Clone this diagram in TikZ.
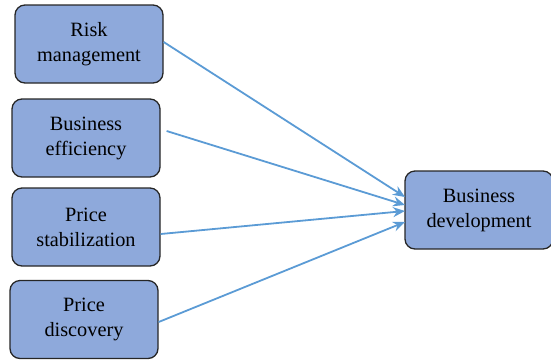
\documentclass[tikz,border=0pt]{standalone}
\usepackage{fontspec}
\setmainfont{Liberation Serif}
\usetikzlibrary{arrows.meta}
\definecolor{boxfill}{HTML}{8EA9DB}
\definecolor{arrowc}{HTML}{5B9BD5}
\begin{document}
\begin{tikzpicture}[x=1pt,y=-1pt,
  factor/.style={draw=black!85, line width=1.3pt, fill=boxfill, rounded corners=10pt,
    minimum width=148pt, minimum height=78pt, align=center, inner sep=0pt,
    font=\fontsize{20.3}{25}\selectfont},
  link/.style={draw=arrowc, line width=1.8pt, -{Stealth[length=12pt,width=10pt]}}]
\useasboundingbox (0,0) rectangle (551,360);
\node[factor] (risk) at (89,44) {Risk\\management};
\node[factor] (eff) at (86,138) {Business\\efficiency};
\node[factor] (stab) at (86,227) {Price\\stabilization};
\node[factor] (disc) at (84,319.5) {Price\\discovery};
\node[factor] (dev) at (479,210) {Business\\development};
\coordinate (t1) at (405,197);
\coordinate (t2) at (405,205);
\coordinate (t3) at (405,211);
\coordinate (t4) at (405,222);
\draw[link] ([yshift=2pt]risk.east) -- (t1);
\draw[link] ([xshift=6pt,yshift=7pt]eff.east) -- (t2);
\draw[link] ([yshift=-7pt]stab.east) -- (t3);
\draw[link] ([yshift=-2.5pt]disc.east) -- (t4);
\end{tikzpicture}
\end{document}
